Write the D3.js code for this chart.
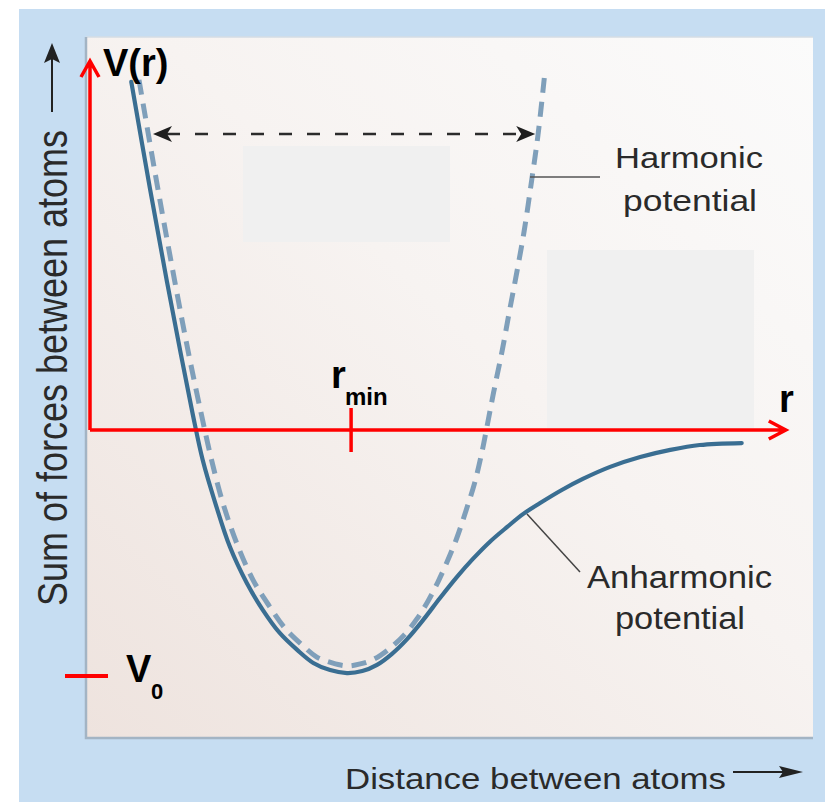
<!DOCTYPE html>
<html><head><meta charset="utf-8">
<script src="https://cdn.jsdelivr.net/npm/d3@7"></script>
<style>html,body{margin:0;padding:0;background:#fff;} svg{display:block;}</style>
</head><body><svg id="c" width="825" height="802"></svg>
<script>
// ---- data (r in arbitrary distance units, V in units of |V0|) ----
const anharmonicR = [0.59,0.86,1.10,1.30,1.47,1.61,1.79,2.00,2.24,2.47,2.71,2.96,3.19,3.43,3.67,3.89,4.10,4.31,4.53,4.76,5.00,5.24,5.47,5.71,5.96,6.19,6.43,6.74,7.04,7.43,7.86,8.29,8.71,9.31];
const anharmonicV = [1.415,0.976,0.602,0.305,0.061,-0.122,-0.297,-0.476,-0.622,-0.732,-0.825,-0.894,-0.947,-0.976,-0.988,-0.980,-0.955,-0.911,-0.850,-0.772,-0.683,-0.598,-0.524,-0.455,-0.394,-0.341,-0.297,-0.244,-0.199,-0.150,-0.110,-0.081,-0.061,-0.053];
const harmonicR = [0.70,0.97,1.21,1.41,1.59,1.73,1.89,2.10,2.33,2.56,2.79,3.03,3.24,3.46,3.67,3.86,4.06,4.29,4.49,4.67,4.83,4.97,5.10,5.24,5.37,5.49,5.59,5.67,5.77,5.89,5.99,6.09,6.20,6.31,6.40,6.49];
const harmonicV = [1.423,0.980,0.606,0.309,0.065,-0.114,-0.289,-0.463,-0.610,-0.715,-0.807,-0.874,-0.923,-0.947,-0.959,-0.951,-0.931,-0.886,-0.833,-0.768,-0.695,-0.618,-0.537,-0.439,-0.329,-0.220,-0.102,0.012,0.159,0.325,0.480,0.630,0.805,1.016,1.199,1.431];
const rMin = 3.73;
const V0 = -1;
const axisLabels = {vr: "V(r)", r: "r", rmin: ["r", "min"], v0: ["V", "0"]};
const curveLabels = ["Harmonic", "potential", "Anharmonic", "potential"];
const xTitle = "Distance between atoms";
const yTitle = "Sum of forces between atoms";
const spanV = 1.203, spanR = [0.90, 6.36];

const svg = d3.select("#c");
const x = d3.scaleLinear().domain([0, 10]).range([90, 790]);
const y = d3.scaleLinear().domain([-1, 1.5]).range([676, 61]);

// defs
const defs = svg.append("defs");
const g1 = defs.append("linearGradient").attr("id","pg").attr("x1","0").attr("y1","1").attr("x2","1").attr("y2","0");
g1.append("stop").attr("offset","0").attr("stop-color","#eee3de");
g1.append("stop").attr("offset","0.55").attr("stop-color","#f7f3f1");
g1.append("stop").attr("offset","1").attr("stop-color","#fbfbfb");

// backgrounds
svg.append("rect").attr("x",0).attr("y",0).attr("width",825).attr("height",802).attr("fill","#ffffff");
svg.append("rect").attr("x",19).attr("y",9).attr("width",806).attr("height",793).attr("fill","#c6ddf2");
svg.append("rect").attr("x",86).attr("y",37).attr("width",727).attr("height",701).attr("fill","url(#pg)");
svg.append("line").attr("x1",86).attr("y1",37).attr("x2",813).attr("y2",37).attr("stroke","#d5dde5").attr("stroke-width",1.5);
svg.append("path").attr("d","M86,37V738H813").attr("fill","none").attr("stroke","#a3b4c4").attr("stroke-width",2.5);

// gray boxes
svg.append("rect").attr("x",243).attr("y",146).attr("width",207).attr("height",96).attr("fill","#f0f0f0");
svg.append("rect").attr("x",547).attr("y",250).attr("width",207).attr("height",178).attr("fill","#f0f0f0");

// curves
const line = d3.line().x(d=>x(d[0])).y(d=>y(d[1])).curve(d3.curveCatmullRom.alpha(0.5));
const harm = harmonicR.map((r,i)=>[r,harmonicV[i]]);
const anh = anharmonicR.map((r,i)=>[r,anharmonicV[i]]);
const hp = svg.append("path").attr("d",line(harm)).attr("fill","none").attr("stroke","#7f9fba").attr("stroke-width",5);
const L = hp.node().getTotalLength();
const n = Math.round((L - 15) / 24);
const k = L / (24 * n + 15);
hp.attr("stroke-dasharray", `${15*k},${9*k}`);
svg.append("path").attr("d",line(anh)).attr("fill","none").attr("stroke","#3a6e92").attr("stroke-width",4.2).attr("stroke-linecap","round");

// dashed double arrow
const ay = y(spanV), ax1 = x(spanR[0]), ax2 = x(spanR[1]);
svg.append("line").attr("x1",ax1+14).attr("y1",ay).attr("x2",ax2-14).attr("y2",ay).attr("stroke","#2b2b2b").attr("stroke-width",2.5).attr("stroke-dasharray","13,15");
svg.append("path").attr("d",`M${ax1},${ay}L${ax1+19},${ay-8}L${ax1+14},${ay}L${ax1+19},${ay+8}Z`).attr("fill","#1e1e1e");
svg.append("path").attr("d",`M${ax2},${ay}L${ax2-19},${ay-8}L${ax2-14},${ay}L${ax2-19},${ay+8}Z`).attr("fill","#1e1e1e");

// leader lines
svg.append("line").attr("x1",530).attr("y1",177).attr("x2",600).attr("y2",177).attr("stroke","#555").attr("stroke-width",1.5);
svg.append("line").attr("x1",527).attr("y1",514).attr("x2",580).attr("y2",572).attr("stroke","#444").attr("stroke-width",1.5);

// gray labels
const gtxt = (t, tx, ty, fs, len) => svg.append("text").attr("x",tx).attr("y",ty).attr("font-family","'Liberation Sans', Arial, sans-serif").attr("font-size",fs).attr("fill","#2a2a2a").attr("textLength",len).attr("lengthAdjust","spacingAndGlyphs").text(t);
gtxt(curveLabels[0], 615, 168, 29, 148);
gtxt(curveLabels[1], 623, 211, 29, 134);
gtxt(curveLabels[2], 587, 588, 31, 185);
gtxt(curveLabels[3], 615, 629, 31, 130);
gtxt(xTitle, 345, 789, 29, 381);
svg.append("text").attr("transform","translate(67,606) scale(1.2,1) rotate(-90)").attr("font-family","'Liberation Sans', Arial, sans-serif").attr("font-size",35).attr("fill","#2a2a2a").attr("textLength",476).attr("lengthAdjust","spacingAndGlyphs").text(yTitle);

// title arrows
svg.append("line").attr("x1",733).attr("y1",772).attr("x2",790).attr("y2",772).attr("stroke","#222").attr("stroke-width",2);
svg.append("path").attr("d","M803,772L779,766L783,772L779,778Z").attr("fill","#222");
svg.append("line").attr("x1",52).attr("y1",112).attr("x2",52).attr("y2",58).attr("stroke","#222").attr("stroke-width",2);
svg.append("path").attr("d","M52,43L44,63L52,59L60,63Z").attr("fill","#222");

// red axes
const red = "#ff0000";
const x0 = x(0), y0 = y(0);
const xEnd = x(9.94), yTop = y(1.5);
svg.append("path").attr("d",`M${x0},${y0}V${yTop}M${x0-9},${yTop+16}L${x0},${yTop}L${x0+9},${yTop+16}`).attr("fill","none").attr("stroke",red).attr("stroke-width",3.5);
svg.append("path").attr("d",`M${x0},${y0}H${xEnd}M${xEnd-17},${y0-9}L${xEnd},${y0}L${xEnd-17},${y0+9}`).attr("fill","none").attr("stroke",red).attr("stroke-width",3.5);
svg.append("line").attr("x1",x(rMin)).attr("y1",y0-22).attr("x2",x(rMin)).attr("y2",y0+22).attr("stroke",red).attr("stroke-width",3.5);
svg.append("line").attr("x1",65).attr("y1",y(V0)).attr("x2",108).attr("y2",y(V0)).attr("stroke",red).attr("stroke-width",4);

// bold labels
const btxt = (t, tx, ty, fs) => svg.append("text").attr("x",tx).attr("y",ty).attr("font-family","'Liberation Sans', Arial, sans-serif").attr("font-weight","bold").attr("font-size",fs).attr("fill","#000").text(t);
btxt(axisLabels.vr, 103, 76, 38);
btxt(axisLabels.rmin[0], 331, 388, 38);
btxt(axisLabels.rmin[1], 345, 405, 24);
btxt(axisLabels.r, 779, 412, 38);
btxt(axisLabels.v0[0], 126, 682, 38);
btxt(axisLabels.v0[1], 151, 699, 22);
</script></body></html>
